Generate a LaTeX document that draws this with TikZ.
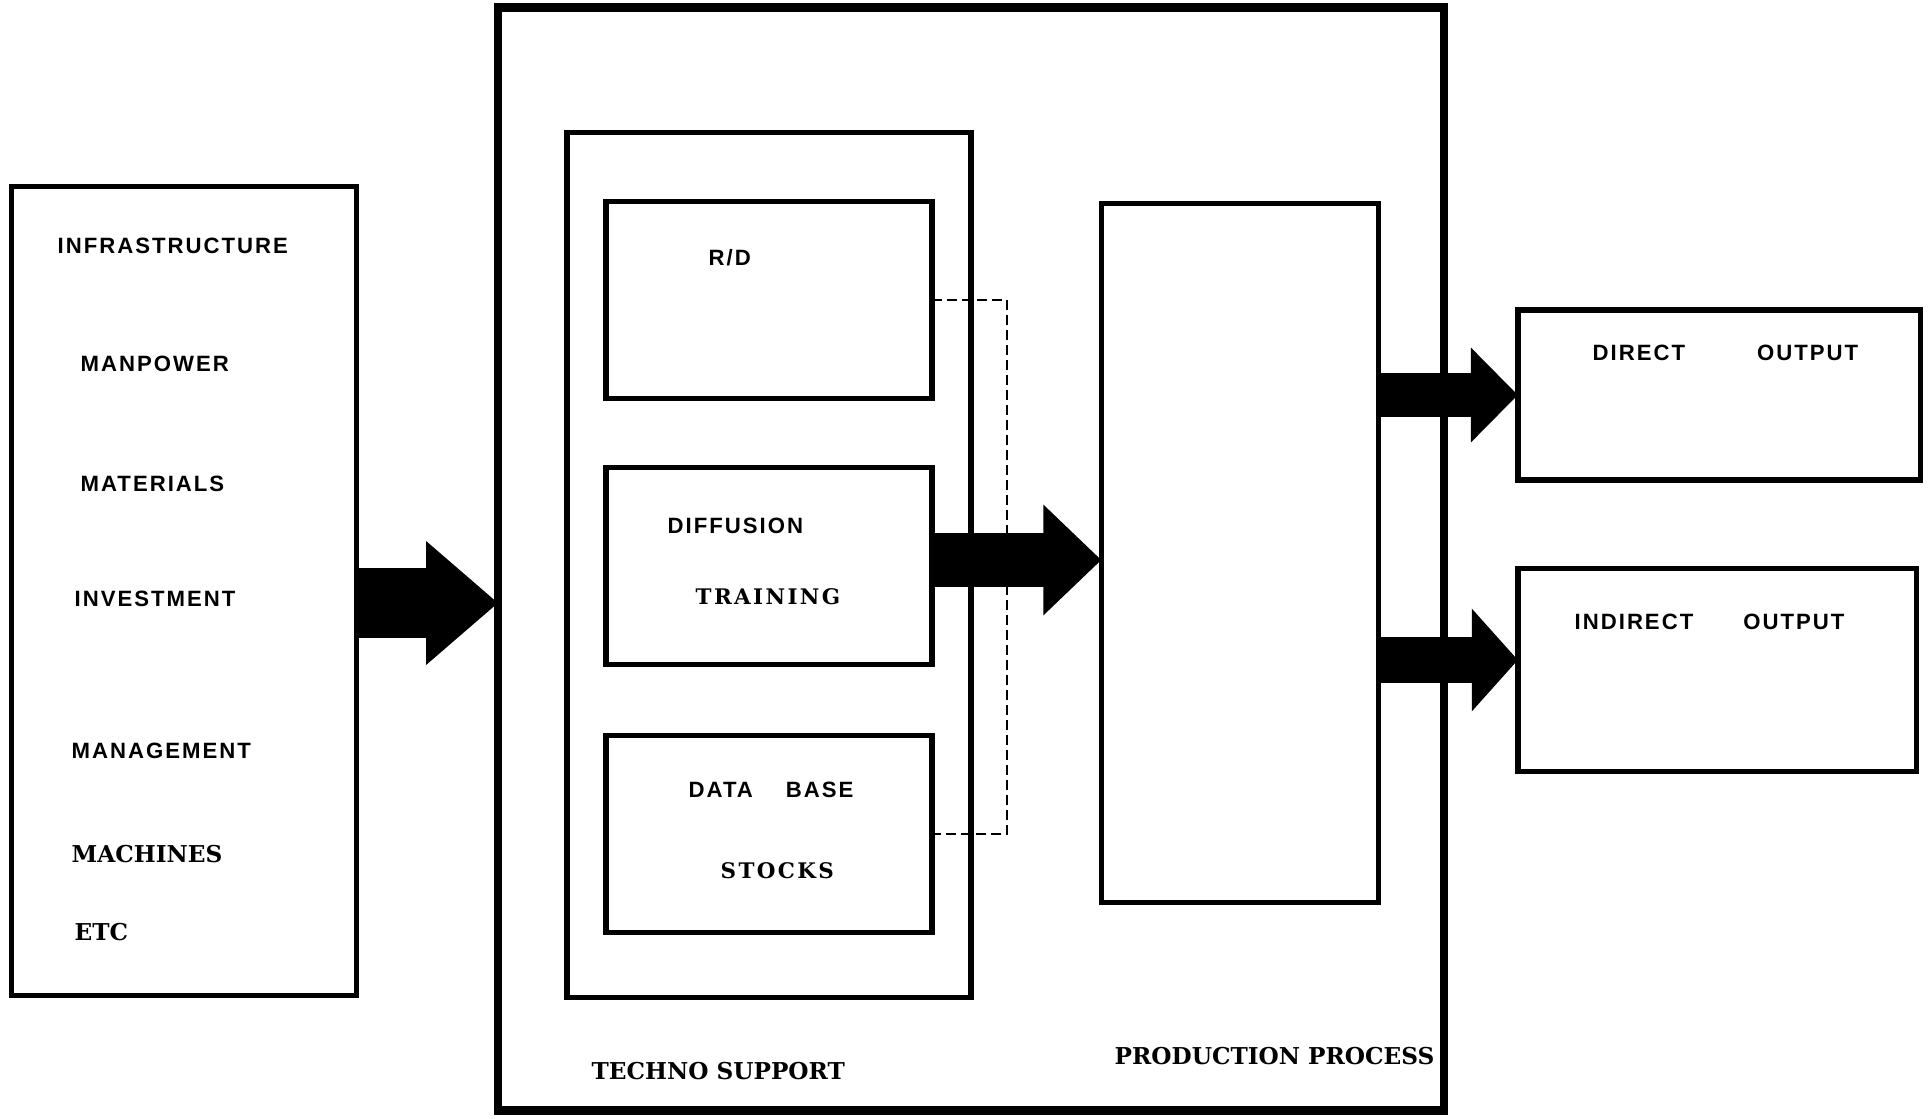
\documentclass[tikz,border=0pt]{standalone}
\usepackage{fontspec}
\setmainfont{Liberation Sans}
\newfontfamily\capsfont[LetterSpace=9]{Liberation Sans}
\newfontfamily\slabfont{DejaVu Serif}
\newfontfamily\typefont[LetterSpace=11]{DejaVu Serif}
\usetikzlibrary{arrows.meta}
\tikzstyle{box} = [draw, line width=1.5pt, inner sep=0pt, outer sep=0pt]
\tikzstyle{lbl} = [anchor=west, inner sep=0pt, font=\capsfont\bfseries\fontsize{6.3}{7}\selectfont]
\tikzstyle{slab} = [anchor=west, inner sep=0pt, font=\slabfont\bfseries\fontsize{6.6}{7}\selectfont]
\tikzstyle{typed} = [anchor=west, inner sep=0pt, font=\typefont\bfseries\fontsize{6.1}{7}\selectfont]
\tikzset{fatarrow/.style n args={3}{line width=#1, -{Triangle[length=#2, width=#3]}}}

\begin{document}
\begin{tikzpicture}[x=0.01cm, y=-0.01cm]
  \useasboundingbox (0,0) rectangle (1930,1118);
  % boxes
  \node[box, minimum width=3.45cm, minimum height=8.08cm] (inputs) at (184,591) {};
  \node[box, line width=2.4pt, minimum width=9.45cm, minimum height=11.02cm] (plant) at (971,559) {};
  \node[box, minimum width=4.04cm, minimum height=8.65cm] (techno) at (769,565) {};
  \foreach \n/\y in {rd/300, diff/566, db/834}
    \node[box, minimum width=3.26cm, minimum height=1.97cm] (\n) at (769,\y) {};
  \node[box, minimum width=2.77cm, minimum height=6.98cm] (prod) at (1240,553) {};
  \node[box, minimum width=4.02cm, minimum height=1.70cm] (dout) at (1719,395) {};
  \node[box, minimum width=3.98cm, minimum height=2.03cm] (iout) at (1717,670) {};

  % input list
  \foreach \n/\x/\y/\t in {infra/57/246/INFRASTRUCTURE, manp/80/364/MANPOWER,
                          mat/80/484/MATERIALS, inv/74/599/INVESTMENT,
                          mgmt/71/751/MANAGEMENT}
    \node[lbl] (\n) at (\x,\y) {\t};
  \node[slab] (mach) at (71,854) {MACHINES};
  \node[slab] (etc) at (74,932) {ETC};

  % techno support and outputs
  \node[lbl] (rdtxt) at (708,258) {R/D};
  \node[lbl] (difftxt) at (667,526) {DIFFUSION};
  \node[typed] (train) at (695,597) {TRAINING};
  \node[lbl] (dbtxt) at (688,790) {DATA\hspace{0.33cm}BASE};
  \node[typed] (stocks) at (720,871) {STOCKS};
  \node[slab] (tstxt) at (591,1071) {TECHNO SUPPORT};
  \node[slab] (pptxt) at (1114,1056) {PRODUCTION PROCESS};
  \node[lbl] (douttxt) at (1592,353) {DIRECT\hspace{0.72cm}OUTPUT};
  \node[lbl] (iouttxt) at (1574,622) {INDIRECT\hspace{0.5cm}OUTPUT};

  % connectors
  \draw[line width=0.7pt, dash pattern=on 0.1cm off 0.05cm] (rd.east) -- ++(75,0) |- (db.east);
  \draw[fatarrow={0.69cm}{0.72cm}{1.19cm}] (inputs.east |- 0,603) -- (plant.west |- 0,603);
  \draw[fatarrow={0.54cm}{0.58cm}{1.07cm}] (diff.east |- 0,560) -- (prod.west |- 0,560);
  \draw[fatarrow={0.43cm}{0.47cm}{0.92cm}] (prod.east |- dout.west) -- (dout.west);
  \draw[fatarrow={0.45cm}{0.46cm}{1.0cm}] (prod.east |- 0,660) -- (iout.west |- 0,660);
\end{tikzpicture}
\end{document}
